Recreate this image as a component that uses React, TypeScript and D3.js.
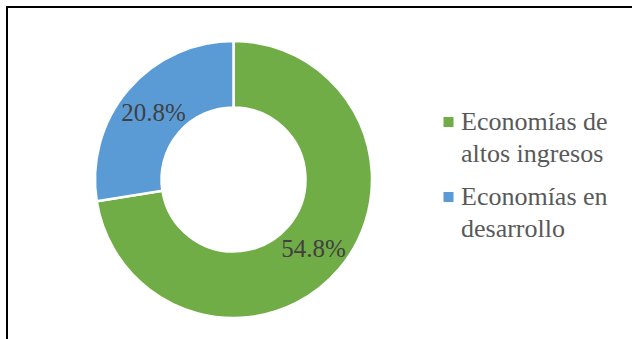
import React from "react";
import * as d3 from "d3";

const categories = ["Economías de altos ingresos", "Economías en desarrollo"];
const values = [54.8, 20.8];
const valueLabels = ["54.8%", "20.8%"];
const legendLines = [["Economías de", "altos ingresos"], ["Economías en", "desarrollo"]];
const colors = ["#70AD47", "#5B9BD5"];

export default function App() {
  const W = 632, H = 339;
  const cx = 233.5, cy = 179.5;
  const outerR = 138.5, innerR = 72;
  const data = categories.map((c, i) => ({ c, v: values[i], label: valueLabels[i], color: colors[i] }));
  const pie = d3.pie<any>().value((d) => d.v).sort(null);
  const arcs = pie(data);
  const arc = d3.arc<any>().innerRadius(innerR).outerRadius(outerR);
  const font = "Liberation Serif";
  return (
    <div style={{ position: "fixed", left: 0, top: 0 }}>
      <svg width={W} height={H} style={{ display: "block" }}>
        <rect x={0} y={0} width={W} height={H} fill="#fff" />
        <line x1={6} y1={7} x2={W} y2={7} stroke="#000" strokeWidth={2} />
        <line x1={7} y1={6} x2={7} y2={H} stroke="#000" strokeWidth={2} />
        <g transform={`translate(${cx},${cy})`}>
          {arcs.map((a, i) => (
            <path key={i} d={arc(a) as string} fill={a.data.color} stroke="#fff" strokeWidth={2.5} />
          ))}
          {arcs.map((a, i) => {
            const [x, y] = arc.centroid(a);
            return (
              <text key={i} x={x} y={y + 1} textAnchor="middle" dominantBaseline="central"
                style={{ fontFamily: font, fontSize: 25 }} fill="#404040">
                {a.data.label}
              </text>
            );
          })}
        </g>
        {legendLines.map((lines, i) => {
          const baseY = 130 + i * 75;
          return (
            <g key={i}>
              <rect x={443.5} y={baseY - 13} width={10} height={10} fill={colors[i]} />
              {lines.map((t, j) => (
                <text key={j} x={461} y={baseY + j * 31.5} style={{ fontFamily: font, fontSize: 26 }} fill="#595959">
                  {t}
                </text>
              ))}
            </g>
          );
        })}
      </svg>
    </div>
  );
}
